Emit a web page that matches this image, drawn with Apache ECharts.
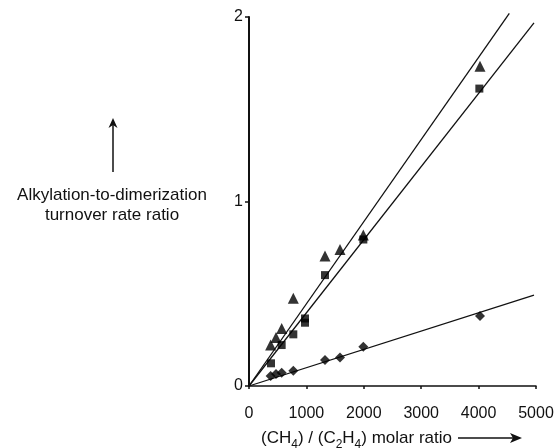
<!DOCTYPE html>
<html>
<head>
<meta charset="utf-8">
<script src="https://cdn.jsdelivr.net/npm/echarts@6/dist/echarts.min.js"></script>
<style>
  html, body { margin: 0; padding: 0; background: #fff; }
  #chart { width: 560px; height: 448px; }
</style>
</head>
<body>
<div id="chart"></div>
<script>
// values: [molar ratio, rate ratio]
const triangles = [[377, 0.222], [470, 0.263], [569, 0.312], [772, 0.475], [1324, 0.704], [1585, 0.740], [1992, 0.818], [4024, 1.733]]
const squares = [[383, 0.123], [569, 0.222], [772, 0.280], [976, 0.366], [976, 0.343], [1324, 0.601], [1992, 0.794], [4013, 1.612]]
const diamonds = [[377, 0.054], [470, 0.065], [569, 0.072], [772, 0.083], [1324, 0.141], [1585, 0.155], [1992, 0.213], [4024, 0.379]]
// fitted lines through the origin (end points)
const triangleFit = [[0, 0], [4535, 2.02]]
const squareFit = [[0, 0], [4965, 1.968]]
const diamondFit = [[0, 0], [4965, 0.493]]
const xTicks = [0, 1000, 2000, 3000, 4000, 5000]
const yTicks = [0, 1, 2]

const font = 'Liberation Sans, Arial, sans-serif'
const chart = echarts.init(document.getElementById('chart'))

function fitLine(data) {
  return {
    type: 'line', data, symbol: 'none', clip: false, silent: true,
    lineStyle: { color: '#111', width: 1.3 }, z: 1,
  }
}
function points(data, symbol, size) {
  return {
    type: 'scatter', data, symbol, symbolSize: size,
    itemStyle: { color: '#000' }, z: 3,
  }
}

chart.setOption({
  animation: false,
  backgroundColor: '#fff',
  grid: { left: 249, right: 24, top: 17, bottom: 62 },
  xAxis: {
    type: 'value', min: 0, max: 5000, interval: 1000,
    axisLine: { lineStyle: { color: '#111', width: 1.5 } },
    axisTick: { show: true, length: 3, lineStyle: { color: '#111', width: 1.5 } },
    axisLabel: { color: '#111', fontSize: 16, fontFamily: font, margin: 20,
      formatter: v => xTicks.includes(v) ? String(v) : '' },
    splitLine: { show: false },
  },
  yAxis: {
    type: 'value', min: 0, max: 2, interval: 1,
    axisLine: { show: true, lineStyle: { color: '#111', width: 2 } },
    axisTick: { show: true, length: 4, lineStyle: { color: '#111', width: 1.5 } },
    axisLabel: { color: '#111', fontSize: 16, fontFamily: font, margin: 6,
      formatter: v => yTicks.includes(v) ? String(v) : '' },
    splitLine: { show: false },
  },
  series: [
    fitLine(triangleFit),
    fitLine(squareFit),
    fitLine(diamondFit),
    points(triangles, 'triangle', 11),
    points(squares, 'rect', 8),
    points(diamonds, 'diamond', 10),
  ],
  graphic: [
    // y axis title with its up arrow
    { type: 'line', shape: { x1: 113, y1: 172, x2: 113, y2: 124 }, style: { stroke: '#111', lineWidth: 1.5 } },
    { type: 'polygon', shape: { points: [[113, 118], [108.5, 128], [113, 125], [117.5, 128]] }, style: { fill: '#111' } },
    {
      type: 'text', x: 112, y: 185,
      style: {
        text: 'Alkylation-to-dimerization\nturnover rate ratio',
        fill: '#111', font: '17px ' + font, align: 'center', lineHeight: 20,
      },
    },
    // x axis title with its right arrow
    {
      type: 'text', x: 261, y: 430,
      style: {
        text: '{n|(CH}{s|4}{n|) / (C}{s|2}{n|H}{s|4}{n|) molar ratio}',
        rich: {
          n: { fontSize: 17, fontFamily: font, fill: '#111', verticalAlign: 'top' },
          s: { fontSize: 12, fontFamily: font, fill: '#111', padding: [9, 0, 0, 0] },
        },
      },
    },
    { type: 'line', shape: { x1: 458, y1: 438, x2: 516, y2: 438 }, style: { stroke: '#111', lineWidth: 1.3 } },
    { type: 'polygon', shape: { points: [[522, 438], [510, 433], [513, 438], [510, 443]] }, style: { fill: '#111' } },
  ],
})
</script>
</body>
</html>
